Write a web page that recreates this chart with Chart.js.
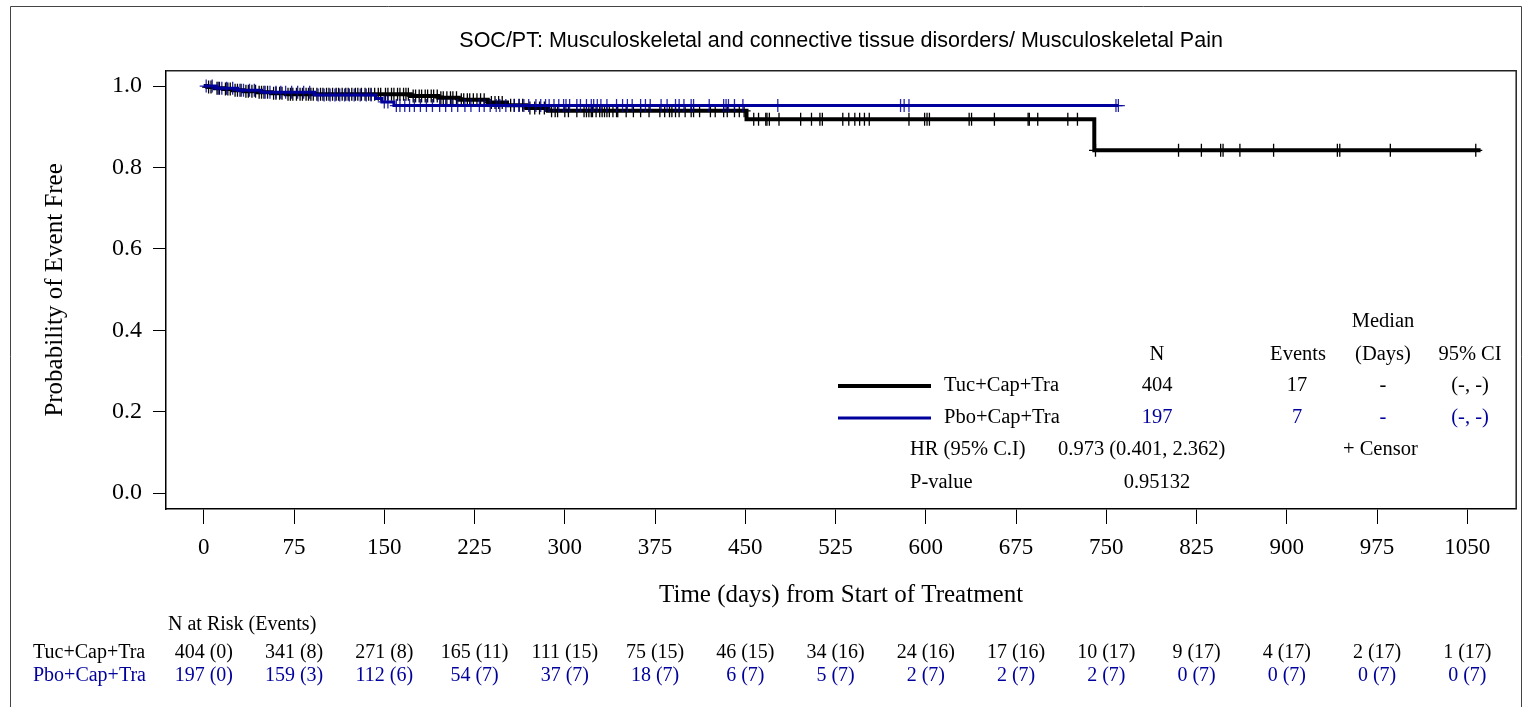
<!DOCTYPE html>
<html>
<head>
<meta charset="utf-8">
<script src="https://cdn.jsdelivr.net/npm/chart.js@4.4.0/dist/chart.umd.min.js"></script>
<style>
html, body { margin: 0; padding: 0; background: #fff; }
canvas { display: block; }
</style>
</head>
<body>
<canvas id="km" width="1524" height="707"></canvas>
<script>
var titleText = 'SOC/PT: Musculoskeletal and connective tissue disorders/ Musculoskeletal Pain';
var xTitle = 'Time (days) from Start of Treatment';
var yTitle = 'Probability of Event Free';
var groups = ['Tuc+Cap+Tra', 'Pbo+Cap+Tra'];

var xTicks = [0, 75, 150, 225, 300, 375, 450, 525, 600, 675, 750, 825, 900, 975, 1050];
var yTicks = [0, 0.2, 0.4, 0.6, 0.8, 1.0];

// KM step points (day, survival)
var tucDays = [0, 3, 9, 16, 24, 33, 44, 56, 68, 172, 195, 212, 236, 252, 268, 286, 451, 740, 1061];
var tucSurv = [1, 0.9975, 0.995, 0.9926, 0.9901, 0.9876, 0.9851, 0.9826, 0.9801, 0.9756, 0.9711, 0.9666, 0.9597, 0.9529, 0.946, 0.9392, 0.9188, 0.8422, 0.8422];
var pboDays = [0, 10, 28, 48, 92, 143, 148, 158, 760];
var pboSurv = [1, 0.9949, 0.9898, 0.9847, 0.9783, 0.9697, 0.961, 0.9521, 0.9521];

// censored times
var tucCensor = [4, 6, 11, 13, 18, 20, 22, 26, 28, 31, 35, 37, 40, 43, 46, 48, 50, 53, 58, 60, 63, 65, 70, 72, 74,
  77, 80, 82, 85, 87, 89, 91, 94, 97, 99, 102, 104, 107, 110, 112, 115, 118, 120, 123, 126, 128, 131, 134, 137, 139, 142, 145, 147,
  151, 153, 156, 158, 161, 163, 166, 168, 170, 174, 176, 179, 181, 184, 186, 189, 191, 194, 197, 199, 202, 205, 207, 210, 214, 216, 219, 221, 224,
  227, 230, 233, 239, 242, 245, 248, 255, 258, 262, 265, 271, 275, 279, 283, 289, 292, 294,
  300, 303, 310, 316, 318, 320, 322, 323, 326, 329, 331, 333, 335, 337, 340, 343, 344, 351, 357, 363, 370, 379, 383, 387, 389, 392, 395,
  400, 405, 407, 412, 421, 425, 432, 435, 441, 445, 449, 457, 461, 467, 468, 470, 478, 496, 505, 512, 514, 531, 536, 541, 545, 549, 553,
  586, 599, 601, 603, 636, 638, 657, 685, 686, 693, 718, 726, 741, 810, 829, 845, 847, 861, 889, 942, 944, 986, 1057];
var pboCensor = [2, 7, 12, 15, 19, 24, 30, 33, 38, 42, 51, 55, 60, 64, 68, 73,
  78, 83, 88, 95, 100, 105, 109, 113, 117, 121, 125, 130, 135, 139, 150,
  153, 160, 163, 167, 171, 175, 180, 185, 190, 196, 201, 206, 211, 217, 222,
  229, 233, 238, 243, 246, 251, 258, 262, 266, 270, 276, 280, 284, 287, 291, 295, 299,
  301, 304, 310, 313, 318, 322, 324, 327, 330, 335, 343, 348, 352, 356, 363, 367, 371,
  380, 385, 392, 395, 399, 405, 407, 420, 432, 434, 436, 441, 448, 477, 579, 582, 586, 758, 760];

// N at risk (events)
var tucRisk = [404, 341, 271, 165, 111, 75, 46, 34, 24, 17, 10, 9, 4, 2, 1];
var tucEvents = [0, 8, 8, 11, 15, 15, 15, 16, 16, 16, 17, 17, 17, 17, 17];
var pboRisk = [197, 159, 112, 54, 37, 18, 6, 5, 2, 2, 2, 0, 0, 0, 0];
var pboEvents = [0, 3, 6, 7, 7, 7, 7, 7, 7, 7, 7, 7, 7, 7, 7];

// summary table
var nTotal = [404, 197];
var nEvents = [17, 7];
var medians = ['-', '-'];
var medianCI = ['(-, -)', '(-, -)'];
var hrText = '0.973 (0.401, 2.362)';
var pValue = '0.95132';

var black = '#000000';
var blue = '#00009c';
var serif = '"Liberation Serif", "Times New Roman", serif';

function stepPoints(days, surv) {
  var pts = [];
  for (var i = 0; i < days.length; i++) pts.push({ x: days[i], y: surv[i] });
  return pts;
}

function censorPoints(cens, days, surv) {
  return cens.map(function (t) {
    var s = surv[0];
    for (var i = 0; i < days.length; i++) {
      if (days[i] <= t) s = surv[i];
    }
    return { x: t, y: s };
  });
}

var framePlugin = {
  id: 'frame',
  beforeDraw: function (chart) {
    var c = chart.ctx;
    c.save();
    c.fillStyle = '#fff';
    c.fillRect(0, 0, chart.width, chart.height);
    c.restore();
  },
  afterDraw: function (chart) {
    var c = chart.ctx, a = chart.chartArea;
    c.save();
    c.strokeStyle = '#444';
    c.lineWidth = 1;
    c.beginPath();
    c.moveTo(10.5, 707);
    c.lineTo(10.5, 6.5);
    c.lineTo(1521.5, 6.5);
    c.lineTo(1521.5, 707);
    c.stroke();
    c.strokeStyle = '#222';
    c.lineWidth = 1.5;
    c.beginPath();
    c.moveTo(a.left, a.top);
    c.lineTo(a.right, a.top);
    c.lineTo(a.right, a.bottom);
    c.stroke();
    c.restore();
  }
};

var tablePlugin = {
  id: 'tables',
  afterDraw: function (chart) {
    var c = chart.ctx;
    var xs = chart.scales.x;
    c.save();
    c.textBaseline = 'middle';

    // number at risk
    c.font = '20px ' + serif;
    c.fillStyle = black;
    c.textAlign = 'left';
    c.fillText('N at Risk (Events)', 168, 625);
    c.fillText(groups[0], 33, 653);
    c.fillStyle = blue;
    c.fillText(groups[1], 33, 676);
    c.textAlign = 'center';
    for (var i = 0; i < xTicks.length; i++) {
      var px = xs.getPixelForValue(xTicks[i]);
      c.fillStyle = black;
      c.fillText(tucRisk[i] + ' (' + tucEvents[i] + ')', px, 653);
      c.fillStyle = blue;
      c.fillText(pboRisk[i] + ' (' + pboEvents[i] + ')', px, 676);
    }

    // legend + summary
    c.font = '20.5px ' + serif;
    c.fillStyle = black;
    c.textAlign = 'center';
    c.fillText('Median', 1383, 322);
    c.fillText('N', 1157, 355);
    c.fillText('Events', 1298, 355);
    c.fillText('(Days)', 1383, 355);
    c.fillText('95% CI', 1470, 355);
    var rowsY = [386, 418];
    var cols = [black, blue];
    var widths = [4, 3];
    for (var g = 0; g < 2; g++) {
      c.strokeStyle = cols[g];
      c.lineWidth = widths[g];
      c.beginPath();
      c.moveTo(838, rowsY[g]);
      c.lineTo(931, rowsY[g]);
      c.stroke();
      c.fillStyle = black;
      c.textAlign = 'left';
      c.fillText(groups[g], 944, rowsY[g]);
      c.fillStyle = cols[g];
      c.textAlign = 'center';
      c.fillText(String(nTotal[g]), 1157, rowsY[g]);
      c.fillText(String(nEvents[g]), 1297, rowsY[g]);
      c.fillText(medians[g], 1383, rowsY[g]);
      c.fillText(medianCI[g], 1470, rowsY[g]);
    }
    c.fillStyle = black;
    c.textAlign = 'left';
    c.fillText('HR (95% C.I)', 910, 450);
    c.fillText(hrText, 1058, 450);
    c.fillText('+ Censor', 1343, 450);
    c.fillText('P-value', 910, 483);
    c.textAlign = 'center';
    c.fillText(pValue, 1157, 483);
    c.restore();
  }
};

var ctx = document.getElementById('km').getContext('2d');
var kmChart = new Chart(ctx, {
  type: 'line',
  data: {
    datasets: [{
      label: groups[0],
      data: stepPoints(tucDays, tucSurv),
      stepped: 'before',
      borderColor: black,
      borderWidth: 4,
      pointRadius: 0,
      fill: false,
      order: 2
    }, {
      label: groups[1],
      data: stepPoints(pboDays, pboSurv),
      stepped: 'before',
      borderColor: blue,
      borderWidth: 3,
      pointRadius: 0,
      fill: false,
      order: 1
    }, {
      label: 'tuc censor',
      data: censorPoints(tucCensor, tucDays, tucSurv),
      showLine: false,
      pointStyle: 'cross',
      pointRadius: 6.5,
      pointBorderWidth: 1.3,
      pointBorderColor: black,
      order: 2
    }, {
      label: 'pbo censor',
      data: censorPoints(pboCensor, pboDays, pboSurv),
      showLine: false,
      pointStyle: 'cross',
      pointRadius: 6.5,
      pointBorderWidth: 1.3,
      pointBorderColor: 'rgba(0,0,156,0.85)',
      order: 1
    }]
  },
  options: {
    responsive: false,
    animation: false,
    devicePixelRatio: 1,
    layout: { padding: { left: 0, right: 4, top: 0, bottom: 0 } },
    plugins: {
      legend: { display: false },
      tooltip: { enabled: false },
      title: {
        display: true,
        text: titleText,
        fullSize: false,
        color: '#000',
        font: { family: '"Liberation Sans", Arial, sans-serif', size: 21.5, weight: 'normal' },
        padding: { top: 28, bottom: 17 }
      }
    },
    scales: {
      x: {
        type: 'linear',
        min: -31.4,
        max: 1090.6,
        afterBuildTicks: function (axis) {
          axis.ticks = xTicks.map(function (v) { return { value: v }; });
        },
        afterFit: function (axis) { axis.height = 198; },
        grid: { drawOnChartArea: false, drawTicks: true, tickLength: 15, color: '#000', lineWidth: 1 },
        border: { display: true, color: '#000', width: 1.5 },
        ticks: {
          color: '#000',
          font: { family: serif, size: 23 },
          padding: 10,
          maxRotation: 0,
          autoSkip: false,
          callback: function (v) { return String(v); }
        },
        title: {
          display: true,
          text: xTitle,
          color: '#000',
          font: { family: serif, size: 25 },
          padding: { top: 0, bottom: 97 }
        }
      },
      y: {
        type: 'linear',
        min: -0.0393,
        max: 1.0376,
        afterBuildTicks: function (axis) {
          axis.ticks = yTicks.map(function (v) { return { value: v }; });
        },
        afterFit: function (axis) { axis.width = 166; },
        grid: { drawOnChartArea: false, drawTicks: true, tickLength: 13, color: '#000', lineWidth: 1 },
        border: { display: true, color: '#000', width: 1.5 },
        ticks: {
          color: '#000',
          font: { family: serif, size: 24 },
          padding: 11,
          callback: function (v) { return v.toFixed(1); }
        },
        title: {
          display: true,
          text: yTitle,
          color: '#000',
          font: { family: serif, size: 25 },
          padding: { top: 40, bottom: 0 }
        }
      }
    }
  },
  plugins: [framePlugin, tablePlugin]
});
</script>
</body>
</html>
